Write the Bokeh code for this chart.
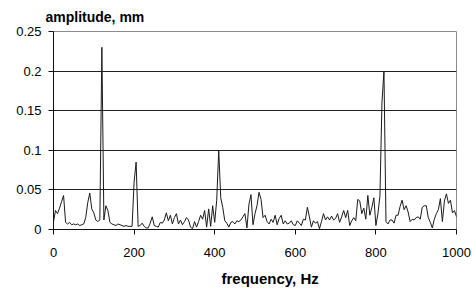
from bokeh.plotting import figure
from bokeh.models import Range1d, FixedTicker, Title, ColumnDataSource
from bokeh.embed import file_html
from bokeh.resources import INLINE

# frequency step of the spectrum (Hz) and amplitudes (mm)
freq_step = 5
amplitude = [
    0.010, 0.024, 0.020, 0.027, 0.035, 0.043, 0.009, 0.007, 0.009, 0.006,
    0.007, 0.006, 0.007, 0.005, 0.006, 0.007, 0.015, 0.034, 0.046, 0.026,
    0.021, 0.012, 0.010, 0.012, 0.230, 0.012, 0.030, 0.024, 0.009, 0.007,
    0.006, 0.005, 0.007, 0.006, 0.005, 0.004, 0.005, 0.004, 0.004, 0.004,
    0.060, 0.085, 0.004, 0.005, 0.008, 0.004, 0.002, 0.002, 0.008, 0.016,
    0.005, 0.004, 0.003, 0.009, 0.008, 0.012, 0.021, 0.011, 0.018, 0.007,
    0.015, 0.020, 0.007, 0.012, 0.006, 0.010, 0.015, 0.012, 0.003, 0.001,
    0.010, 0.003, 0.010, 0.018, 0.013, 0.024, 0.003, 0.026, 0.004, 0.030,
    0.009, 0.037, 0.100, 0.040, 0.028, 0.011, 0.008, 0.003, 0.009, 0.010,
    0.007, 0.011, 0.010, 0.012, 0.016, 0.020, 0.002, 0.032, 0.044, 0.006,
    0.020, 0.030, 0.047, 0.038, 0.015, 0.018, 0.010, 0.007, 0.013, 0.009,
    0.018, 0.006, 0.014, 0.018, 0.007, 0.011, 0.007, 0.008, 0.011, 0.006,
    0.005, 0.011, 0.008, 0.005, 0.013, 0.012, 0.028, 0.016, 0.003, 0.011,
    0.008, 0.010, 0.001, 0.010, 0.020, 0.012, 0.016, 0.012, 0.017, 0.012,
    0.014, 0.020, 0.009, 0.016, 0.024, 0.015, 0.024, 0.005, 0.011, 0.015,
    0.011, 0.038, 0.036, 0.020, 0.027, 0.013, 0.043, 0.018, 0.028, 0.040,
    0.005, 0.020, 0.042, 0.160, 0.200, 0.010, 0.007, 0.012, 0.012, 0.008,
    0.018, 0.018, 0.029, 0.037, 0.025, 0.030, 0.022, 0.010, 0.013, 0.012,
    0.015, 0.016, 0.013, 0.028, 0.030, 0.030, 0.015, 0.009, 0.002, 0.013,
    0.020, 0.025, 0.039, 0.010, 0.036, 0.045, 0.033, 0.037, 0.021, 0.024,
    0.016,
]
frequency = [i * freq_step for i in range(len(amplitude))]

x_ticks = [0, 200, 400, 600, 800, 1000]
y_ticks = [0, 0.05, 0.1, 0.15, 0.2, 0.25]
y_tick_labels = ["0", "0.05", "0.1", "0.15", "0.2", "0.25"]

FONT = "Liberation Sans"

p = figure(
    frame_width=403, frame_height=198,
    min_border_left=53, min_border_right=18, min_border_top=10, min_border_bottom=4,
    x_range=Range1d(0, 1000), y_range=Range1d(0, 0.25),
    output_backend="svg", toolbar_location=None,
    background_fill_color="white", border_fill_color="white",
)

src = ColumnDataSource(data=dict(f=frequency, a=amplitude))
p.line("f", "a", source=src, line_color="#1a1a1a", line_width=1)

p.outline_line_color = "#8c8c8c"
p.outline_line_width = 1

p.xgrid.grid_line_color = None
p.ygrid.grid_line_color = "#222222"
p.ygrid.grid_line_width = 1

p.xaxis.ticker = FixedTicker(ticks=x_ticks)
p.yaxis.ticker = FixedTicker(ticks=y_ticks)
p.yaxis.major_label_overrides = {t: s for t, s in zip(y_ticks, y_tick_labels)}

for ax in (p.xaxis[0], p.yaxis[0]):
    ax.axis_line_color = "#111111"
    ax.axis_line_width = 1
    ax.major_tick_line_color = "#111111"
    ax.major_tick_out = 5
    ax.major_tick_in = 0
    ax.minor_tick_line_color = None
    ax.major_label_text_font = FONT
    ax.major_label_text_font_size = "13px"
    ax.major_label_text_color = "black"

p.xaxis.major_label_standoff = 13
p.yaxis.major_label_standoff = 7

p.add_layout(Title(text="amplitude, mm", align="left", offset=-8,
                   text_font=FONT, text_font_size="14px", text_font_style="bold",
                   text_color="black", standoff=13), "above")
p.add_layout(Title(text="frequency, Hz", align="left", offset=168,
                   text_font=FONT, text_font_size="15px", text_font_style="bold",
                   text_color="black", standoff=16), "below")

open("out.html", "w").write(file_html(p, INLINE))
